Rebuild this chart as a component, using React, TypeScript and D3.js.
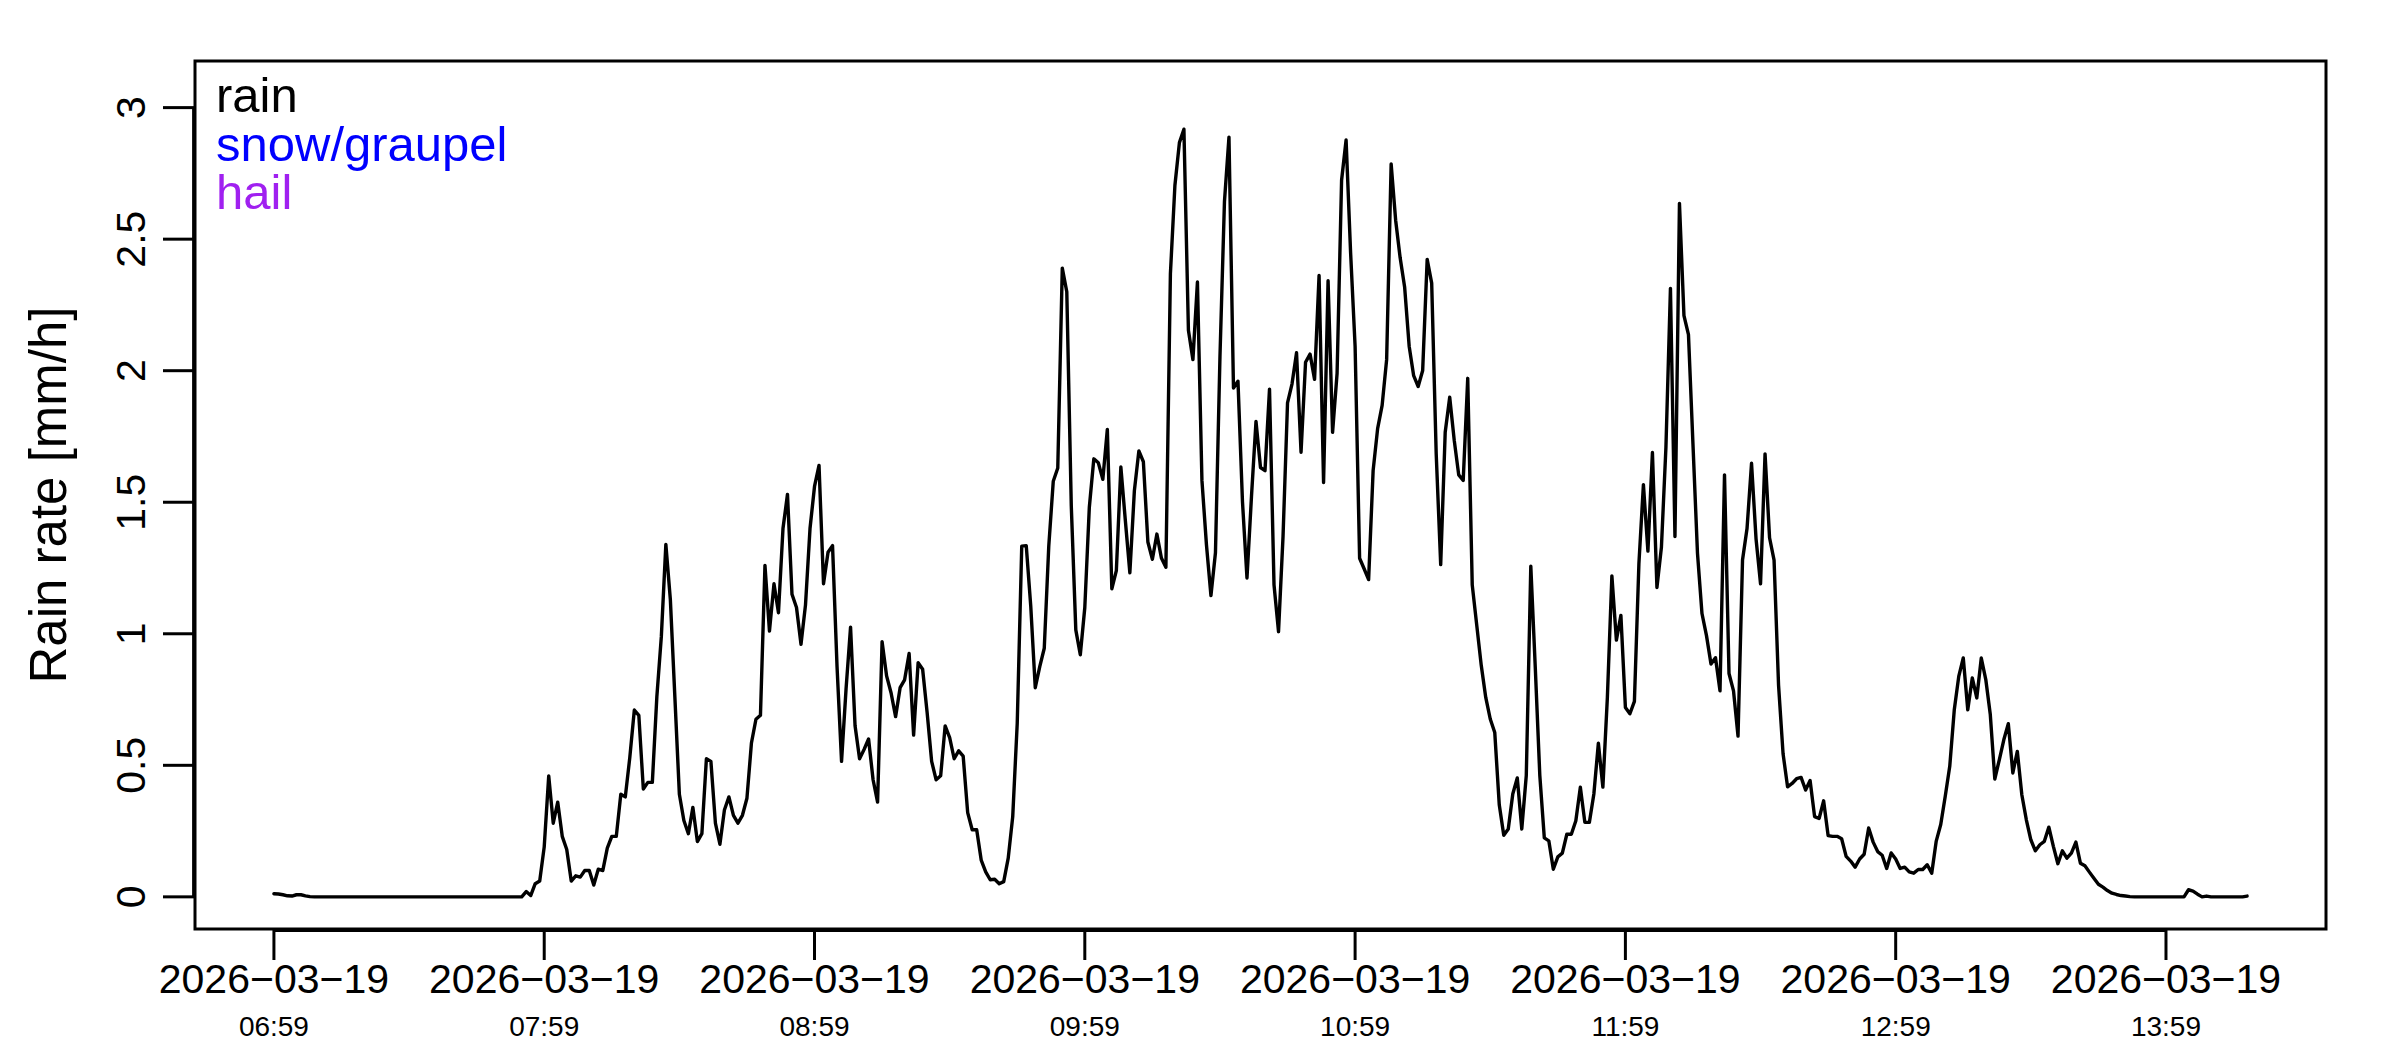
import React, { useRef, useEffect } from 'react';
import * as d3 from 'd3';

// one value per minute, starting 2026-03-19 06:59
const startTime = new Date(2026, 2, 19, 6, 59);
const stepMinutes = 1;

const rainRate = [
  0.012, 0.011, 0.008, 0.004, 0.003, 0.008, 0.008, 0.004, 0.001, 0,
  0, 0, 0, 0, 0, 0, 0, 0, 0, 0,
  0, 0, 0, 0, 0, 0, 0, 0, 0, 0,
  0, 0, 0, 0, 0, 0, 0, 0, 0, 0,
  0, 0, 0, 0, 0, 0, 0, 0, 0, 0,
  0, 0, 0, 0, 0, 0, 0.02, 0.005, 0.05, 0.06,
  0.19, 0.46, 0.28, 0.36, 0.23, 0.18, 0.06, 0.08, 0.075, 0.10,
  0.10, 0.045, 0.105, 0.10, 0.185, 0.23, 0.23, 0.39, 0.38, 0.53,
  0.71, 0.69, 0.41, 0.435, 0.435, 0.76, 0.99, 1.34, 1.13, 0.76,
  0.39, 0.29, 0.24, 0.34, 0.21, 0.24, 0.525, 0.515, 0.28, 0.20,
  0.33, 0.38, 0.31, 0.28, 0.31, 0.375, 0.585, 0.675, 0.69, 1.26,
  1.01, 1.19, 1.08, 1.40, 1.53, 1.15, 1.10, 0.96, 1.11, 1.40,
  1.56, 1.64, 1.19, 1.31, 1.335, 0.875, 0.515, 0.79, 1.025, 0.65,
  0.525, 0.56, 0.60, 0.445, 0.36, 0.97, 0.84, 0.775, 0.685, 0.795,
  0.825, 0.925, 0.615, 0.89, 0.865, 0.70, 0.515, 0.445, 0.46, 0.65,
  0.605, 0.525, 0.555, 0.535, 0.32, 0.255, 0.255, 0.14, 0.095, 0.065,
  0.067, 0.05, 0.058, 0.147, 0.305, 0.66, 1.333, 1.335, 1.105, 0.795,
  0.875, 0.945, 1.333, 1.58, 1.63, 2.39, 2.30, 1.485, 1.015, 0.92,
  1.10, 1.48, 1.665, 1.65, 1.587, 1.777, 1.171, 1.24, 1.634, 1.43,
  1.232, 1.543, 1.695, 1.654, 1.349, 1.283, 1.379, 1.288, 1.253, 2.368,
  2.704, 2.867, 2.918, 2.154, 2.042, 2.337, 1.583, 1.339, 1.145, 1.308,
  2.052, 2.643, 2.888, 1.934, 1.96, 1.502, 1.212, 1.522, 1.807, 1.632,
  1.62, 1.93, 1.186, 1.008, 1.369, 1.878, 1.95, 2.068, 1.69, 2.032,
  2.063, 1.967, 2.362, 1.575, 2.342, 1.766, 1.99, 2.724, 2.877, 2.449,
  2.093, 1.287, 1.247, 1.206, 1.62, 1.78, 1.868, 2.042, 2.786, 2.572,
  2.429, 2.317, 2.093, 1.981, 1.94, 2.001, 2.423, 2.333, 1.685, 1.263,
  1.766, 1.899, 1.736, 1.604, 1.583, 1.971, 1.186, 1.033, 0.88, 0.758,
  0.676, 0.625, 0.35, 0.234, 0.258, 0.391, 0.452, 0.258, 0.462, 1.257,
  0.87, 0.462, 0.224, 0.213, 0.105, 0.152, 0.166, 0.238, 0.238, 0.289,
  0.417, 0.283, 0.283, 0.391, 0.584, 0.417, 0.758, 1.22, 0.976, 1.07,
  0.72, 0.696, 0.743, 1.267, 1.567, 1.314, 1.689, 1.176, 1.33, 1.71,
  2.313, 1.37, 2.636, 2.209, 2.137, 1.72, 1.307, 1.077, 0.993, 0.885,
  0.909, 0.783, 1.604, 0.849, 0.783, 0.611, 1.28, 1.40, 1.648, 1.361,
  1.19, 1.684, 1.365, 1.28, 0.804, 0.544, 0.418, 0.431, 0.449, 0.454,
  0.406, 0.442, 0.305, 0.298, 0.365, 0.233, 0.23, 0.23, 0.221, 0.154,
  0.136, 0.113, 0.144, 0.162, 0.262, 0.208, 0.172, 0.158, 0.108, 0.167,
  0.144, 0.108, 0.113, 0.095, 0.09, 0.104, 0.104, 0.122, 0.09, 0.212,
  0.275, 0.382, 0.496, 0.71, 0.838, 0.908, 0.711, 0.832, 0.756, 0.908,
  0.826, 0.693, 0.448, 0.521, 0.597, 0.658, 0.471, 0.553, 0.388, 0.293,
  0.217, 0.175, 0.198, 0.211, 0.265, 0.192, 0.126, 0.175, 0.147, 0.166,
  0.208, 0.128, 0.118, 0.094, 0.071, 0.048, 0.037, 0.024, 0.014, 0.009,
  0.005, 0.003, 0.001, 0, 0, 0, 0, 0, 0, 0,
  0, 0, 0, 0, 0, 0.027, 0.022, 0.01, 0, 0.003,
  0, 0, 0, 0, 0, 0, 0, 0, 0.003,
];

const legendLabels = ['rain', 'snow/graupel', 'hail'];
const legendColors = ['#000000', '#0000FF', '#A020F0'];

const tickDateLabel = '2026\u221203\u221219';
const tickTimeLabels = ['06:59', '07:59', '08:59', '09:59', '10:59', '11:59', '12:59', '13:59'];
const yTicks = [0, 0.5, 1, 1.5, 2, 2.5, 3];
const yLimits = [0, 3.055];

const FONT = '"Liberation Sans", Arial, Helvetica, sans-serif';

const App: React.FC = () => {
  const svgRef = useRef(null);
  const width = 2400;
  const height = 1050;

  useEffect(() => {
    if (!svgRef.current) return;
    const svg = d3.select(svgRef.current);
    svg.selectAll('*').remove();

    const left = 195, right = 2326, top = 61, bottom = 929;

    const data = rainRate.map((v, i) => ({
      t: new Date(startTime.getTime() + i * stepMinutes * 60000),
      v,
    }));

    // R style 4% extension of the axis ranges
    const tMin = data[0].t.getTime();
    const tMax = data[data.length - 1].t.getTime();
    const tPad = (tMax - tMin) * 0.04;
    const x = d3.scaleTime()
      .domain([new Date(tMin - tPad), new Date(tMax + tPad)])
      .range([left, right]);

    const yPad = (yLimits[1] - yLimits[0]) * 0.04;
    const y = d3.scaleLinear()
      .domain([yLimits[0] - yPad, yLimits[1] + yPad])
      .range([bottom, top]);

    svg.append('rect').attr('width', width).attr('height', height).attr('fill', '#fff');

    // series
    const line = d3.line<any>().x(d => x(d.t)).y(d => y(d.v));
    svg.append('path')
      .datum(data)
      .attr('d', line)
      .attr('fill', 'none')
      .attr('stroke', '#000')
      .attr('stroke-width', 3.4)
      .attr('stroke-linejoin', 'round')
      .attr('stroke-linecap', 'round');

    // plot box
    svg.append('rect')
      .attr('x', left).attr('y', top)
      .attr('width', right - left).attr('height', bottom - top)
      .attr('fill', 'none').attr('stroke', '#000').attr('stroke-width', 3);

    // x axis
    const tickDates = tickTimeLabels.map(s => {
      const [h, m] = s.split(':').map(Number);
      return new Date(2026, 2, 19, h, m);
    });
    const xa = svg.append('g');
    xa.append('line')
      .attr('x1', x(tickDates[0])).attr('x2', x(tickDates[tickDates.length - 1]))
      .attr('y1', bottom + 1.2).attr('y2', bottom + 1.2)
      .attr('stroke', '#000').attr('stroke-width', 3.4);
    tickDates.forEach((d, i) => {
      const px = x(d);
      xa.append('line')
        .attr('x1', px).attr('x2', px).attr('y1', bottom).attr('y2', bottom + 31)
        .attr('stroke', '#000').attr('stroke-width', 3);
      xa.append('text')
        .attr('x', px).attr('y', 993)
        .attr('text-anchor', 'middle')
        .attr('font-family', FONT).attr('font-size', 41)
        .text(tickDateLabel);
      xa.append('text')
        .attr('x', px).attr('y', 1036)
        .attr('text-anchor', 'middle')
        .attr('font-family', FONT).attr('font-size', 28)
        .text(tickTimeLabels[i]);
    });

    // y axis
    const ya = svg.append('g');
    ya.append('line')
      .attr('x1', left - 1.2).attr('x2', left - 1.2)
      .attr('y1', y(yTicks[0])).attr('y2', y(yTicks[yTicks.length - 1]))
      .attr('stroke', '#000').attr('stroke-width', 3.4);
    yTicks.forEach(v => {
      const py = y(v);
      ya.append('line')
        .attr('x1', left - 32).attr('x2', left).attr('y1', py).attr('y2', py)
        .attr('stroke', '#000').attr('stroke-width', 3);
      ya.append('text')
        .attr('transform', `translate(145,${py}) rotate(-90)`)
        .attr('text-anchor', 'middle')
        .attr('font-family', FONT).attr('font-size', 41)
        .text(String(v));
    });

    svg.append('text')
      .attr('transform', `translate(66,${(top + bottom) / 2}) rotate(-90)`)
      .attr('text-anchor', 'middle')
      .attr('font-family', FONT).attr('font-size', 51)
      .text('Rain rate [mm/h]');

    // legend (text only, coloured)
    legendLabels.forEach((lab, i) => {
      svg.append('text')
        .attr('x', 216).attr('y', 112 + i * 48.5)
        .attr('font-family', FONT).attr('font-size', 49)
        .attr('fill', legendColors[i])
        .text(lab);
    });
  }, []);

  return (
    <svg
      ref={svgRef}
      width={width}
      height={height}
      style={{ position: 'absolute', left: 0, top: 0, display: 'block' }}
    />
  );
};

export default App;
